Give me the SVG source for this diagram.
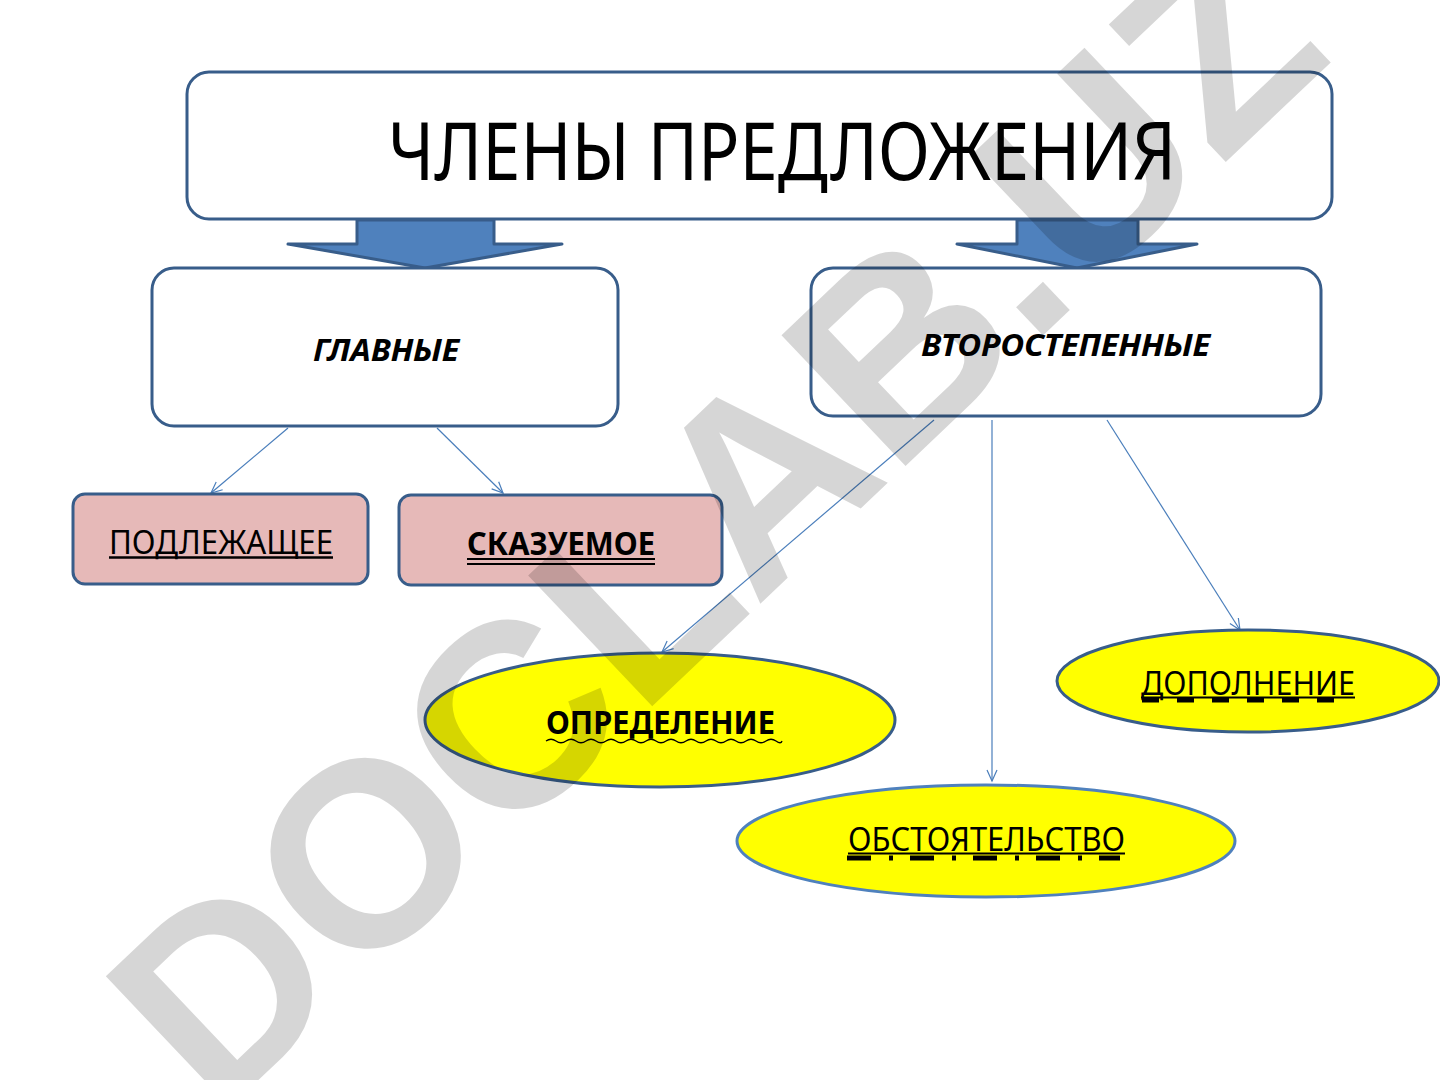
<svg xmlns="http://www.w3.org/2000/svg" width="1440" height="1080" viewBox="0 0 1440 1080">
<style>
.box{fill:#ffffff;stroke:#385D8A;stroke-width:3}
.pink{fill:#E6B9B8;stroke:#385D8A;stroke-width:3}
.yel{fill:#FFFF00;stroke:#385D8A;stroke-width:3}
.yel2{fill:#FFFF00;stroke:#4F81BD;stroke-width:3}
.barrow{fill:#4F81BD;stroke:#385D8A;stroke-width:3;stroke-linejoin:round}
.conn{stroke:#4A7EBB;stroke-width:1.2;fill:none}
.t{font-family:"Noto Sans","Open Sans","DejaVu Sans",sans-serif;fill:#000000}
.ul{stroke:#000000;fill:none}
.wm{font-family:"Liberation Sans","Arial",sans-serif;font-weight:bold;fill:#000000;fill-opacity:0.16}
</style>
<defs>
<marker id="arr" markerWidth="14" markerHeight="14" refX="12" refY="6" orient="auto" markerUnits="userSpaceOnUse">
<path d="M1,1 L12,6 L1,11" fill="none" stroke="#4A7EBB" stroke-width="1.2"/>
</marker>
</defs>
<rect width="1440" height="1080" fill="#ffffff"/>

<g id="block-arrows">
<path class="barrow" d="M357,220 L494,220 L494,244 L562,244 L425,268 L288,244 L357,244 Z"/>
<path class="barrow" d="M1017,220 L1138,220 L1138,244 L1197,244 L1077,268 L957,244 L1017,244 Z"/>
</g>

<g id="node-top">
<rect class="box" x="187" y="72" width="1145" height="147" rx="22"/>
<text class="t" x="388" y="180" font-size="80" textLength="788" lengthAdjust="spacingAndGlyphs">ЧЛЕНЫ ПРЕДЛОЖЕНИЯ</text>
</g>

<g id="node-glavnye">
<rect class="box" x="152" y="268" width="466" height="158" rx="22"/>
<text class="t" x="313" y="361" font-size="31" font-weight="bold" font-style="italic" textLength="146" lengthAdjust="spacingAndGlyphs">ГЛАВНЫЕ</text>
</g>

<g id="node-vtorostepennye">
<rect class="box" x="811" y="268" width="510" height="148" rx="22"/>
<text class="t" x="921" y="356" font-size="31" font-weight="bold" font-style="italic" textLength="289" lengthAdjust="spacingAndGlyphs">ВТОРОСТЕПЕННЫЕ</text>
</g>

<g id="connectors">
<line class="conn" x1="288" y1="428" x2="211" y2="493" marker-end="url(#arr)"/>
<line class="conn" x1="437" y1="428" x2="503" y2="493" marker-end="url(#arr)"/>
<line class="conn" x1="934" y1="420" x2="662" y2="652" marker-end="url(#arr)"/>
<line class="conn" x1="992" y1="420" x2="992" y2="781" marker-end="url(#arr)"/>
<line class="conn" x1="1107" y1="420" x2="1240" y2="630" marker-end="url(#arr)"/>
</g>

<g id="node-podlezhashchee">
<rect class="pink" x="73" y="494" width="295" height="90" rx="12"/>
<text class="t" x="109" y="554" font-size="32" textLength="224" lengthAdjust="spacingAndGlyphs">ПОДЛЕЖАЩЕЕ</text>
<line class="ul" x1="109" y1="557.5" x2="333" y2="557.5" stroke-width="2.5"/>
</g>

<g id="node-skazuemoe">
<rect class="pink" x="399" y="495" width="323" height="90" rx="12"/>
<text class="t" x="467" y="555" font-size="32" font-weight="bold" textLength="188" lengthAdjust="spacingAndGlyphs">СКАЗУЕМОЕ</text>
<line class="ul" x1="467" y1="559" x2="655" y2="559" stroke-width="2.2"/>
<line class="ul" x1="467" y1="564" x2="655" y2="564" stroke-width="2.2"/>
</g>

<g id="node-opredelenie">
<ellipse class="yel" cx="660" cy="720" rx="235" ry="67"/>
<text class="t" x="546" y="734" font-size="32" font-weight="bold" textLength="229" lengthAdjust="spacingAndGlyphs">ОПРЕДЕЛЕНИЕ</text>
<path class="ul" stroke-width="1.3" d="M546,741 q5,-3.5 10,0 t10,0 t10,0 t10,0 t10,0 t10,0 t10,0 t10,0 t10,0 t10,0 t10,0 t10,0 t10,0 t10,0 t10,0 t10,0 t10,0 t10,0 t10,0 t10,0 t10,0 t10,0 t10,0 t6,0"/>
</g>

<g id="node-obstoyatelstvo">
<ellipse class="yel2" cx="986" cy="841" rx="249" ry="56"/>
<text class="t" x="848" y="851" font-size="32" textLength="277" lengthAdjust="spacingAndGlyphs">ОБСТОЯТЕЛЬСТВО</text>
<line class="ul" x1="848" y1="853.5" x2="1125" y2="853.5" stroke-width="1.8"/>
<line class="ul" x1="847" y1="858" x2="1120" y2="858" stroke-width="5" stroke-dasharray="24 18 4 17"/>
</g>

<g id="node-dopolnenie">
<ellipse class="yel" cx="1248" cy="681" rx="191" ry="51"/>
<text class="t" x="1141" y="695" font-size="32" textLength="214" lengthAdjust="spacingAndGlyphs">ДОПОЛНЕНИЕ</text>
<line class="ul" x1="1141" y1="697.5" x2="1355" y2="697.5" stroke-width="1.8"/>
<line class="ul" x1="1142" y1="700" x2="1336" y2="700" stroke-width="5" stroke-dasharray="17 18"/>
</g>

<g id="watermark">
<text class="wm" transform="translate(712,520) rotate(-43.5)" x="0" y="94" font-size="262" text-anchor="middle">DOCLAB.UZ</text>
</g>
</svg>
